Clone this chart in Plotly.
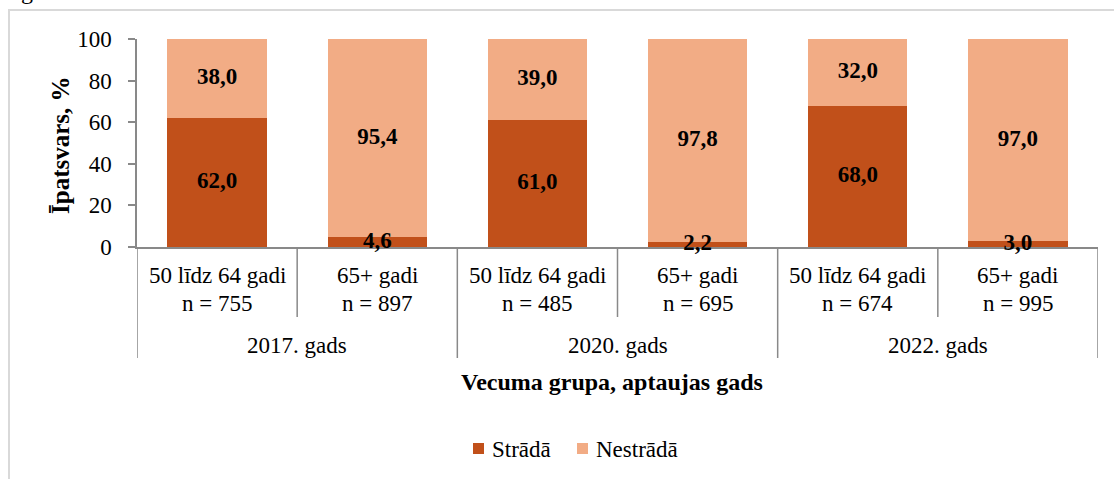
import plotly.graph_objects as go

# ---- data ----
age_groups = ["50 līdz 64 gadi", "65+ gadi", "50 līdz 64 gadi", "65+ gadi", "50 līdz 64 gadi", "65+ gadi"]
sample_sizes = [755, 897, 485, 695, 674, 995]
years = ["2017. gads", "2020. gads", "2022. gads"]
series_names = ["Strādā", "Nestrādā"]
strada = [62.0, 4.6, 61.0, 2.2, 68.0, 3.0]
nestrada = [38.0, 95.4, 39.0, 97.8, 32.0, 97.0]
y_ticks = [0, 20, 40, 60, 80, 100]

FONT = "Liberation Serif, Times New Roman, serif"
DARK = "#C1501A"
LIGHT = "#F2AC85"
AXIS = "#898989"

W, H = 1114, 479
L, R, T, B = 137, 16, 39, 232
PH = H - T - B


def py(pix):
    """pixel row -> paper y"""
    return (H - B - pix) / PH


def px(pix):
    return (pix - L) / (W - L - R)


xs = list(range(len(strada)))
fmt = lambda v: f"{v:.1f}".replace(".", ",")

fig = go.Figure()
for name, vals, col in [(series_names[0], strada, DARK), (series_names[1], nestrada, LIGHT)]:
    fig.add_trace(go.Bar(
        x=xs, y=vals, name=name, marker=dict(color=col, line=dict(width=0)),
        width=0.62, hoverinfo="skip", showlegend=False,
    ))

# data labels, centred in each stacked segment (drawn above all bars)
label_x = xs + xs
label_y = [s / 2 for s in strada] + [s + v / 2 for s, v in zip(strada, nestrada)]
label_t = [fmt(v) for v in strada] + [fmt(v) for v in nestrada]
fig.add_trace(go.Scatter(
    x=label_x, y=label_y, text=label_t, mode="text", textposition="middle center",
    textfont=dict(family=FONT, size=23, color="black", weight="bold"),
    cliponaxis=False, hoverinfo="skip", showlegend=False,
))

shapes = []
annotations = []

# category dividers
n = len(xs)
for k in range(n + 1):
    xpos = k - 0.5
    long = (k % 2 == 0)
    shapes.append(dict(type="line", xref="x", yref="paper", x0=xpos, x1=xpos,
                       y0=0, y1=py(358) if long else py(317),
                       line=dict(color=AXIS, width=1.5)))

# category labels
for i in xs:
    annotations.append(dict(xref="x", yref="paper", x=i, y=py(275), text=age_groups[i],
                            showarrow=False, yanchor="middle", xanchor="center",
                            font=dict(family=FONT, size=23, color="black")))
    annotations.append(dict(xref="x", yref="paper", x=i, y=py(303), text=f"n = {sample_sizes[i]}",
                            showarrow=False, yanchor="middle", xanchor="center",
                            font=dict(family=FONT, size=23, color="black")))
for j, yr in enumerate(years):
    annotations.append(dict(xref="x", yref="paper", x=2 * j + 0.5, y=py(345), text=yr,
                            showarrow=False, yanchor="middle", xanchor="center",
                            font=dict(family=FONT, size=23, color="black")))

# axis titles
annotations.append(dict(xref="paper", yref="paper", x=px(612), y=py(382),
                        text="<b>Vecuma grupa, aptaujas gads</b>", showarrow=False,
                        yanchor="middle", xanchor="center",
                        font=dict(family=FONT, size=24, color="black")))
annotations.append(dict(xref="paper", yref="paper", x=px(60), y=py(145),
                        text="<b>Īpatsvars, %</b>", showarrow=False, textangle=-90,
                        yanchor="middle", xanchor="center",
                        font=dict(family=FONT, size=25, color="black")))
# cut-off caption glyph at top-left
annotations.append(dict(xref="paper", yref="paper", x=px(27), y=py(-9),
                        text="g", showarrow=False, yanchor="middle", xanchor="center",
                        font=dict(family=FONT, size=24, color="black")))

# legend (squares + labels)
legend_pos = [(473, 490), (577, 594)]
for (sq_x, tx_x), name, col in zip(legend_pos, series_names, [DARK, LIGHT]):
    shapes.append(dict(type="rect", xref="paper", yref="paper", x0=px(sq_x), x1=px(sq_x + 11),
                       y0=py(454), y1=py(443), fillcolor=col, line=dict(width=0)))
    annotations.append(dict(xref="paper", yref="paper", x=px(tx_x), y=py(449), text=name,
                            showarrow=False, yanchor="middle", xanchor="left",
                            font=dict(family=FONT, size=23, color="black")))

# outer chart border
shapes.append(dict(type="rect", xref="paper", yref="paper", x0=px(9), x1=px(1300),
                   y0=py(700), y1=py(10), line=dict(color="#D9D9D9", width=2),
                   layer="below"))

fig.update_layout(
    width=W, height=H, margin=dict(l=L, r=R, t=T, b=B, autoexpand=False),
    paper_bgcolor="white", plot_bgcolor="white",
    barmode="stack", bargap=0,
    showlegend=False,
    xaxis=dict(range=[-0.5, n - 0.5], showticklabels=False, ticks="", showgrid=False,
               zeroline=False, showline=True, linecolor=AXIS, linewidth=1.5, fixedrange=True,
               layer="below traces"),
    yaxis=dict(range=[0, 100], tickvals=y_ticks, ticks="outside", ticklen=7, tickcolor=AXIS,
               tickwidth=1.5, showgrid=False, zeroline=False, showline=True, linecolor=AXIS,
               linewidth=1.5, ticklabelstandoff=12,
               tickfont=dict(family=FONT, size=23, color="black"), fixedrange=True),
    shapes=shapes, annotations=annotations,
    font=dict(family=FONT),
)

fig.write_html("out.html", config={"displayModeBar": False},
               post_script="document.body.style.margin='0';")
